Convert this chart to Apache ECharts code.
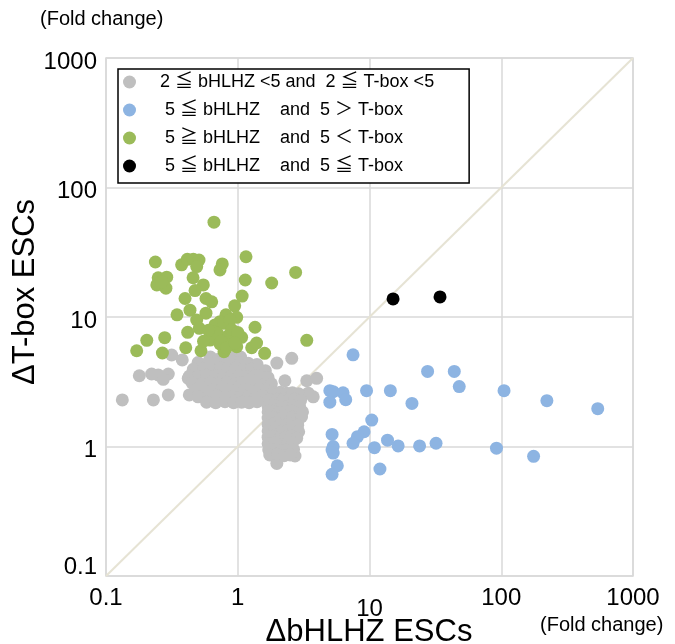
<!DOCTYPE html>
<html>
<head>
<meta charset="utf-8">
<script src="https://cdn.jsdelivr.net/npm/echarts@6/dist/echarts.min.js"></script>
<style>
html,body{margin:0;padding:0;background:#fff;}
#chart{width:675px;height:644px;}
</style>
</head>
<body>
<div id="chart"></div>
<script>
// ---- data ----
const legendNames = [
  "2 \u2266 bHLHZ <5 and  2 \u2266 T-box <5",
  " 5 \u2266 bHLHZ    and  5 \uFF1E T-box",
  " 5 \u2267 bHLHZ    and  5 \uFF1C T-box",
  " 5 \u2266 bHLHZ    and  5 \u2266 T-box"
];
const tickValues = [0.1, 1, 10, 100, 1000];
const diagonal = [[0.1, 0.1], [1000, 1000]];

const grayPoints = [
  [0.133,2.29],[0.179,3.52],[0.222,3.63],[0.249,3.57],[0.297,3.63],[0.272,3.3],[0.229,2.29],[0.297,2.5],
  [0.315,5.09],[0.379,4.66],[0.421,3.36],[0.429,2.5],[2.57,4.8],[1.98,4.41],[3.34,3.22],[3.97,3.36],
  [2.28,3.22],[3.43,2.58],[3.74,2.42],[2.72,0.845],[1.98,0.74],
  [0.62,4.9],[0.78,5.0],[0.9,4.85],[1.05,4.9],[0.7,4.7],
  [0.5,4.45],[0.6,4.5],[0.7,4.4],[0.8,4.55],[0.92,4.5],[1.05,4.45],[1.2,4.4],[1.4,4.3],
  [0.46,3.95],[0.55,4.0],[0.64,3.9],[0.74,4.05],[0.84,3.95],[0.97,4.0],[1.1,3.9],[1.27,3.95],[1.45,3.9],[1.62,3.85],
  [0.43,3.5],[0.5,3.45],[0.58,3.55],[0.68,3.5],[0.78,3.45],[0.9,3.55],[1.02,3.5],[1.17,3.45],[1.33,3.5],[1.5,3.45],[1.7,3.4],
  [0.45,3.1],[0.53,3.05],[0.62,3.1],[0.72,3.05],[0.83,3.1],[0.95,3.05],[1.08,3.1],[1.23,3.05],[1.4,3.1],[1.6,3.0],[1.8,3.05],
  [0.48,2.75],[0.56,2.7],[0.65,2.75],[0.75,2.7],[0.86,2.75],[0.98,2.7],[1.12,2.75],[1.27,2.7],[1.45,2.75],[1.65,2.7],
  [0.5,2.42],[0.6,2.4],[0.7,2.45],[0.8,2.4],[0.92,2.42],[1.05,2.38],[1.2,2.42],[1.38,2.4],[1.55,2.45],
  [0.58,2.2],[0.68,2.18],[0.8,2.22],[0.93,2.18],[1.07,2.2],[1.22,2.18],[1.4,2.22],
  [1.9,2.6],[2.1,2.62],[2.35,2.58],[2.6,2.6],[2.9,2.55],
  [1.75,2.3],[2.0,2.32],[2.2,2.28],[2.45,2.3],[2.7,2.32],[3.0,2.28],
  [1.7,2.05],[1.9,2.07],[2.15,2.03],[2.4,2.05],[2.65,2.07],[2.95,2.03],
  [1.7,1.85],[1.85,1.87],[2.05,1.83],[2.3,1.85],[2.55,1.87],[2.85,1.83],[3.1,1.85],
  [1.7,1.66],[1.85,1.68],[2.1,1.64],[2.35,1.66],[2.6,1.68],[2.9,1.64],[3.05,1.7],
  [1.7,1.48],[1.88,1.5],[2.1,1.46],[2.35,1.48],[2.6,1.5],[2.85,1.46],
  [1.7,1.32],[1.9,1.34],[2.15,1.3],[2.4,1.32],[2.65,1.34],[2.9,1.3],
  [1.7,1.18],[1.85,1.2],[2.1,1.16],[2.3,1.18],[2.55,1.2],[2.8,1.16],
  [1.7,1.05],[1.9,1.07],[2.12,1.03],[2.38,1.05],[2.6,1.07],
  [1.72,0.94],[1.92,0.95],[2.15,0.93],[2.4,0.94],[2.65,0.95],
  [1.75,0.86],[2.0,0.87],[2.25,0.85],[2.5,0.86]
];

const bluePoints = [
  [7.5,5.1],[27.6,3.8],[44,3.8],[48,2.9],[105,2.7],[222,2.26],[540,1.96],
  [5.0,2.7],[5.3,2.65],[6.3,2.6],[6.6,2.3],[5.0,2.2],[9.5,2.7],[14.4,2.7],[21,2.15],
  [10.4,1.6],[5.2,1.24],[9.1,1.3],[8.1,1.19],[7.5,1.06],[5.3,1.0],[5.2,0.94],[5.3,0.89],
  [10.9,0.98],[13.7,1.12],[16.5,1.01],[24,1.01],[32,1.06],[92,0.97],[176,0.84],
  [5.7,0.71],[5.2,0.61],[12,0.67]
];

const greenPoints = [
  [0.66,54],[0.237,26.6],[0.375,25.3],[0.414,27.9],[0.46,27.9],[0.508,27.5],[0.488,24.5],
  [0.763,25.7],[0.733,23.1],[1.155,29.2],[2.75,22.1],[0.249,20.1],[0.289,20.3],[0.243,17.7],
  [0.285,16.7],[0.265,18.7],[0.458,20.1],[0.548,17.7],[0.474,16.0],[1.14,19.3],[1.81,18.3],
  [0.398,13.9],[0.574,13.9],[0.634,13.1],[1.08,14.5],[0.948,12.2],[0.434,11.3],[0.574,10.7],
  [0.346,10.4],[0.488,9.48],[0.511,8.18],[0.814,10.4],[0.982,9.95],[0.733,9.2],[0.672,8.68],
  [0.652,7.7],[0.786,8.94],[0.873,9.48],[1.352,8.33],[0.417,7.62],[3.34,6.61],[0.204,6.61],
  [0.279,6.92],[0.171,5.49],[0.268,5.27],[0.403,5.79],[0.526,5.49],[0.616,6.64],[0.733,6.19],
  [0.925,6.85],[1.07,6.97],[0.982,5.9],[0.786,5.4],[1.276,5.79],[1.6,5.24],[1.39,6.3],
  [0.7,7.5],[0.85,7.2],[0.9,8.0],[0.75,6.5],[1.0,7.6],[0.82,5.8],[0.95,6.3],[0.6,7.9],[0.55,6.5]
];

const blackPoints = [[15.1,13.8],[34.3,14.3]];

// ---- chart ----
const FONT = "'Liberation Sans', Arial, 'Noto Sans CJK JP', sans-serif";
const chart = echarts.init(document.getElementById('chart'), null, {renderer: 'canvas'});

const scatterBase = {type: 'scatter', symbol: 'circle', symbolSize: 13, silent: true};

chart.setOption({
  animation: false,
  backgroundColor: '#ffffff',
  grid: {left: 106, top: 58, width: 527, height: 518, show: true, borderColor: '#d9d9d9', borderWidth: 1.5, containLabel: false},
  legend: {
    orient: 'vertical',
    left: 118, top: 69,
    padding: [3, 35, 7, 5],
    itemGap: 8,
    itemWidth: 13, itemHeight: 13,
    icon: 'circle',
    borderColor: '#000', borderWidth: 1.5,
    backgroundColor: '#fff',
    data: legendNames,
    textStyle: {fontFamily: FONT, fontSize: 18, color: '#000', lineHeight: 20, padding: [0, 0, 0, 19]}
  },
  xAxis: {
    type: 'log', logBase: 10, min: 0.1, max: 1000,
    axisLine: {show: false}, axisTick: {show: false},
    splitLine: {show: true, lineStyle: {color: '#d9d9d9', width: 1.5}},
    axisLabel: {
      margin: 10, fontFamily: FONT, fontSize: 24, color: '#000',
      formatter: function (v) {
        const t = tickValues.find(function (k) { return Math.abs(k - v) / k < 1e-6; });
        if (t === undefined) return '';
        return t === 10 ? '{low|10}' : '{n|' + String(t) + '}';
      },
      rich: {
        n: {fontFamily: FONT, fontSize: 24, color: '#000'},
        low: {fontFamily: FONT, fontSize: 24, color: '#000', padding: [11, 0, 0, 0]}
      }
    }
  },
  yAxis: {
    type: 'log', logBase: 10, min: 0.1, max: 1000,
    axisLine: {show: false}, axisTick: {show: false},
    splitLine: {show: true, lineStyle: {color: '#d9d9d9', width: 1.5}},
    axisLabel: {
      margin: 9, fontFamily: FONT, fontSize: 24, color: '#000',
      formatter: function (v) {
        const t = tickValues.find(function (k) { return Math.abs(k - v) / k < 1e-6; });
        if (t === undefined) return '';
        return t === 0.1 ? '{up|0.1}' : '{n|' + String(t) + '}';
      },
      rich: {
        n: {fontFamily: FONT, fontSize: 24, color: '#000', padding: [8, 0, 0, 0]},
        up: {fontFamily: FONT, fontSize: 24, color: '#000', padding: [0, 0, 18, 0]}
      }
    }
  },
  graphic: [
    {type: 'text', left: 40, top: 9, style: {text: '(Fold change)', font: "20px 'Liberation Sans', Arial, sans-serif", fill: '#000'}},
    {type: 'text', left: 540, top: 615, style: {text: '(Fold change)', font: "20px 'Liberation Sans', Arial, sans-serif", fill: '#000'}},
    {type: 'text', x: 369, y: 632, style: {text: '\u0394bHLHZ ESCs', font: "31px 'Liberation Sans', Arial, sans-serif", fill: '#000', textAlign: 'center', textVerticalAlign: 'middle'}},
    {type: 'text', x: 25, y: 292, rotation: Math.PI / 2, style: {text: '\u0394T-box ESCs', font: "31px 'Liberation Sans', Arial, sans-serif", fill: '#000', textAlign: 'center', textVerticalAlign: 'middle'}}
  ],
  series: [
    {type: 'line', data: diagonal, symbol: 'none', silent: true, z: 1, lineStyle: {color: '#e6e3d4', width: 2}, legendHoverLink: false},
    Object.assign({}, scatterBase, {name: legendNames[0], data: grayPoints, itemStyle: {color: '#bfbfbf', opacity: 1}, z: 2}),
    Object.assign({}, scatterBase, {name: legendNames[1], data: bluePoints, itemStyle: {color: '#8db4e2', opacity: 1}, z: 3}),
    Object.assign({}, scatterBase, {name: legendNames[2], data: greenPoints, itemStyle: {color: '#9bbb59', opacity: 1}, z: 4}),
    Object.assign({}, scatterBase, {name: legendNames[3], data: blackPoints, itemStyle: {color: '#000000', opacity: 1}, z: 5})
  ]
});
</script>
</body>
</html>
